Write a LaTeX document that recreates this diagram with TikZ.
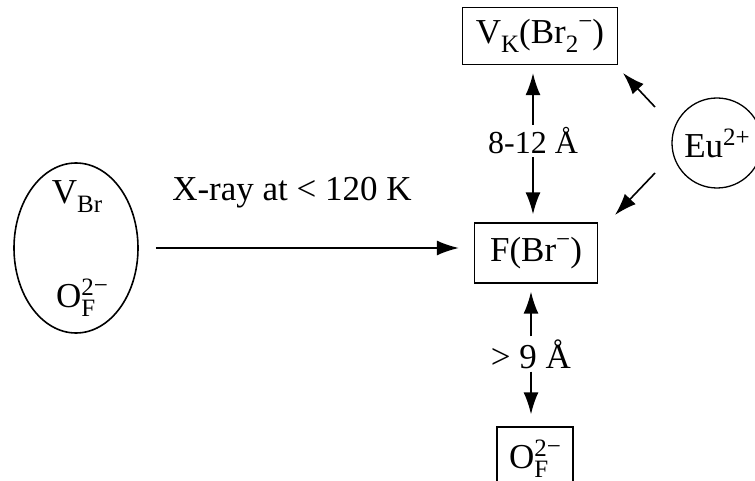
\documentclass[tikz,border=0pt]{standalone}
\usepackage{fontspec}
\setmainfont{Liberation Serif}
\usetikzlibrary{positioning,arrows.meta,shapes.geometric}

\newcommand{\sps}[1]{\raisebox{0.34em}{\fontsize{25}{25}\selectfont #1}}
\newcommand{\sbs}[1]{\raisebox{-0.26em}{\fontsize{25}{25}\selectfont #1}}
\newcommand{\mns}{\raisebox{0.1em}{−}}
\newcommand{\supsub}[2]{\rlap{\sbs{#2}}\sps{#1}}

\begin{document}
\begin{tikzpicture}[x=1pt,y=-1pt,font=\fontsize{35}{42}\selectfont,
  box/.style={draw,line width=1.3pt,inner sep=0pt},
  dist/.style={inner xsep=0pt,inner ysep=3pt},
  arr/.style={-{Latex[length=22pt,width=15pt]},line width=1.6pt}]
\useasboundingbox (0,0) rectangle (755,481);
% defect pair before irradiation
\node[draw,ellipse,line width=1.6pt,minimum width=124pt,minimum height=170pt] (pair) at (76,248) {};
\node (vbr) at (77,197) {V\sbs{Br}};
\node (of) at (82,298) {O\supsub{2\mns}{F}};
% centres after irradiation
\node[box,minimum width=155pt,minimum height=57pt] (vk) at (540,36) {V\sbs{K}(Br\sbs{2}\sps{\mns})};
\node[box,minimum width=123pt,minimum height=60pt] (fbr) at (536,253) {F(Br\sps{\mns})};
\node[box,minimum width=76pt,minimum height=64pt] (ofb) at (535,459) {O\supsub{2\mns}{F}};
\node[draw,circle,line width=1.3pt,minimum size=90pt,inner sep=0pt] (eu) at (717,143) {Eu\sps{2+}};
% irradiation
\draw[arr,shorten <=17pt,shorten >=15pt] (pair.east) -- (pair.east -| fbr.west);
\node (xray) at (292,193) {X-ray at < 120 K};
% distances
\node[dist,font=\fontsize{32}{38}\selectfont] (d1) at (533,141) {8-12 Å};
\draw[arr,shorten >=8pt] (d1) -- (d1 |- vk.south);
\draw[arr,shorten >=8pt] (d1) -- (d1 |- fbr.north);
\node[dist] (d2) at (531,354) {> 9 Å};
\draw[arr,shorten >=8pt] (d2) -- (d2 |- fbr.south);
\draw[arr,shorten >=12pt] (d2) -- (d2 |- ofb.north);
% europium
\coordinate (eua) at (655,107);
\coordinate (vkc) at (623,73);
\coordinate (eub) at (655,173);
\coordinate (fbc) at (615,215);
\draw[arr] (eua) -- (vkc);
\draw[arr] (eub) -- (fbc);
\end{tikzpicture}
\end{document}
